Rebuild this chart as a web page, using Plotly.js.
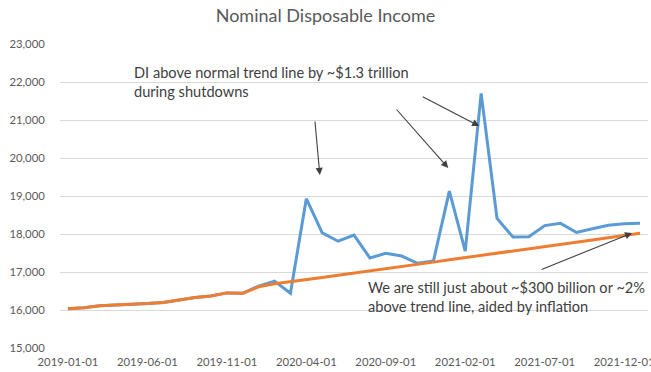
<!DOCTYPE html>
<html>
<head>
<meta charset="utf-8">
<script src="https://cdn.plot.ly/plotly-3.0.1.min.js"></script>
<style>html,body{margin:0;padding:0;background:#fff;}#chart{width:651px;height:372px;}</style>
</head>
<body>
<div id="chart"></div>
<script>
const months = ['2019-01-01','2019-02-01','2019-03-01','2019-04-01','2019-05-01','2019-06-01','2019-07-01','2019-08-01','2019-09-01','2019-10-01','2019-11-01','2019-12-01',
  '2020-01-01','2020-02-01','2020-03-01','2020-04-01','2020-05-01','2020-06-01','2020-07-01','2020-08-01','2020-09-01','2020-10-01','2020-11-01','2020-12-01',
  '2021-01-01','2021-02-01','2021-03-01','2021-04-01','2021-05-01','2021-06-01','2021-07-01','2021-08-01','2021-09-01','2021-10-01','2021-11-01','2021-12-01',
  '2022-01-01'];
const disposableIncome = [16030,16060,16110,16130,16140,16170,16200,16270,16330,16370,16450,16440,
  16630,16760,16440,18930,18030,17810,17970,17370,17490,17420,17230,17290,
  19130,17550,21700,18410,17920,17930,18220,18280,18040,18140,18230,18270,
  18280];
const trendLine = [16030,16060,16110,16130,16140,16170,16200,16270,16330,16370,16450,16440,
  16610,16690,16740,16800,16855,16915,16970,17030,17090,17145,17205,17260,
  17320,17380,17440,17495,17555,17610,17670,17730,17785,17845,17900,17960,
  18020];
const xTickLabels = ['2019-01-01','2019-06-01','2019-11-01','2020-04-01','2020-09-01','2021-02-01','2021-07-01','2021-12-01'];
const yTicks = [15000,16000,17000,18000,19000,20000,21000,22000,23000];
const titleText = 'Nominal Disposable Income';
const note1 = 'DI above normal trend line by ~$1.3 trillion<br>during shutdowns';
const note2 = 'We are still just about ~$300 billion or ~2%<br>above trend line, aided by inflation';

const FONT = 'Lato, "Liberation Sans", sans-serif';
const traces = [
  {x: months, y: disposableIncome, type: 'scatter', mode: 'lines', line: {color: '#5b9bd5', width: 3}, hoverinfo: 'skip'},
  {x: months, y: trendLine, type: 'scatter', mode: 'lines', line: {color: '#ed7d31', width: 3}, hoverinfo: 'skip'}
];
const arrowStyle = {text: '', showarrow: true, arrowhead: 2, arrowsize: 1.3, arrowwidth: 1.1, arrowcolor: '#404040', xref: 'x', yref: 'y', axref: 'pixel', ayref: 'pixel'};
const layout = {
  width: 651, height: 372,
  margin: {l: 60, r: 3, t: 44, b: 24},
  paper_bgcolor: '#ffffff', plot_bgcolor: '#ffffff',
  showlegend: false,
  font: {family: FONT, color: '#595959', size: 11},
  title: {text: titleText, x: 0.5, xref: 'container', xanchor: 'center', y: 1 - 16/372, yref: 'container', yanchor: 'middle', font: {family: FONT, size: 18, color: '#595959'}},
  xaxis: {type: 'category', range: [-0.5, 36.5], tickvals: xTickLabels, ticktext: xTickLabels, showgrid: false, zeroline: false, showline: false,
    ticks: 'outside', ticklen: 3, tickcolor: 'rgba(0,0,0,0)', tickfont: {family: FONT, size: 11.3, color: '#595959'}, fixedrange: true},
  yaxis: {range: [15000, 23000], tickvals: yTicks, tickformat: ',d', showgrid: true, gridcolor: '#d9d9d9', gridwidth: 1, zeroline: false, showline: false,
    ticks: 'outside', ticklen: 12, tickcolor: 'rgba(0,0,0,0)', tickfont: {family: FONT, size: 11.3, color: '#595959'}, fixedrange: true},
  annotations: [
    {text: note1, xref: 'x', yref: 'y', x: 4.0, y: 21987, xanchor: 'left', yanchor: 'middle', align: 'left', showarrow: false, font: {family: FONT, size: 14.6, color: '#404040'}},
    {text: note2, xref: 'x', yref: 'y', x: 18.75, y: 16350, xanchor: 'left', yanchor: 'middle', align: 'left', showarrow: false, font: {family: FONT, size: 14.6, color: '#404040'}},
    Object.assign({}, arrowStyle, {x: 15.85, y: 19553, ax: -5, ay: -55}),
    Object.assign({}, arrowStyle, {x: 23.93, y: 19737, ax: -53, ay: -60}),
    Object.assign({}, arrowStyle, {x: 25.88, y: 20842, ax: -58, ay: -30}),
    Object.assign({}, arrowStyle, {x: 35.5, y: 18026, ax: -92, ay: 37})
  ]
};
Plotly.newPlot('chart', traces, layout, {displayModeBar: false, staticPlot: true});
</script>
</body>
</html>
